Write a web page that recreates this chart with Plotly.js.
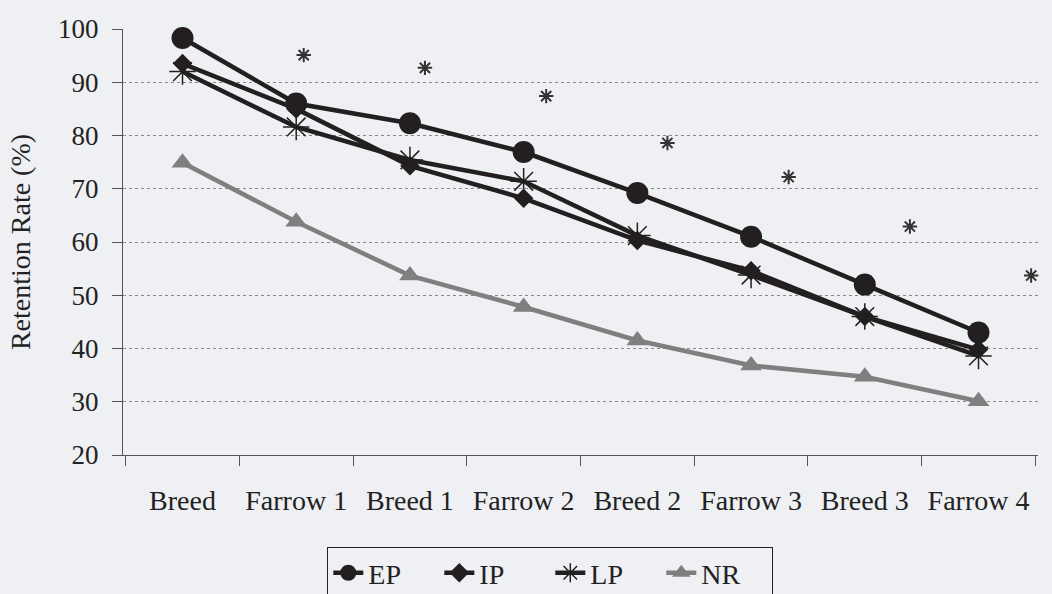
<!DOCTYPE html>
<html>
<head>
<meta charset="utf-8">
<script src="https://cdn.plot.ly/plotly-3.0.1.min.js"></script>
<style>html,body{margin:0;padding:0;background:#eef0f3;}#chart{width:1052px;height:594px;}</style>
</head>
<body>
<div id="chart"></div>
<script>
const categories = ["Breed", "Farrow 1", "Breed 1", "Farrow 2", "Breed 2", "Farrow 3", "Breed 3", "Farrow 4"];
const EP = [98.3, 86.0, 82.3, 76.9, 69.2, 61.0, 52.0, 43.0];
const IP = [93.5, 85.0, 74.3, 68.2, 60.3, 54.6, 46.0, 39.8];
const LP = [92.0, 81.6, 75.4, 71.4, 61.2, 53.8, 46.0, 38.6];
const NR = [74.9, 63.8, 53.7, 47.8, 41.5, 36.8, 34.7, 30.1];
const starY = [102.8, 95.1, 92.7, 87.4, 78.6, 72.2, 62.9, 53.7];
const seriesNames = ["EP", "IP", "LP", "NR"];
const yRange = [20, 100];

const FONT = "Liberation Serif, Times New Roman, serif";
const dark = "#231f20";
const grey = "#7f7f7f";
const starDrift = 0.06; // significance stars sit progressively right of each category centre

const traces = [
  {x: categories, y: EP, name: seriesNames[0], mode: "lines+markers", cliponaxis: false,
   line: {color: dark, width: 4.5}, marker: {symbol: "circle", size: 22, color: dark}},
  {x: categories, y: IP, name: seriesNames[1], mode: "lines+markers", cliponaxis: false,
   line: {color: dark, width: 4.5}, marker: {symbol: "diamond", size: 15, color: dark}},
  {x: categories, y: LP, name: seriesNames[2], mode: "lines+markers", cliponaxis: false,
   line: {color: dark, width: 4.5}, marker: {symbol: "asterisk-open", size: 22, color: dark, line: {color: dark, width: 1.5}}},
  {x: categories, y: NR, name: seriesNames[3], mode: "lines+markers", cliponaxis: false,
   line: {color: grey, width: 4.5}, marker: {symbol: "triangle-up", size: 19, color: grey}},
  {x: categories.map((c, i) => i * (1 + starDrift) + 0.02), y: starY, xaxis: "x2", yaxis: "y",
   mode: "markers", marker: {symbol: "asterisk-open", size: 12, color: "#333", line: {color: "#333", width: 2}},
   cliponaxis: false, showlegend: false, hoverinfo: "skip"}
];

const layout = {
  width: 1052, height: 594,
  paper_bgcolor: "#eef0f3", plot_bgcolor: "#eef0f3",
  margin: {l: 123, r: 14, t: 29, b: 139},
  font: {family: FONT, color: "#222"},
  showlegend: true,
  legend: {orientation: "h", xref: "paper", x: 0.467, xanchor: "center",
           yref: "container", y: 0.079, yanchor: "top",
           bordercolor: "#222", borderwidth: 1, bgcolor: "#eef0f3",
           entrywidth: 66, entrywidthmode: "pixels",
           font: {family: FONT, size: 28, color: "#222"}, tracegroupgap: 0},
  xaxis: {type: "category", tickson: "boundaries", ticks: "outside", ticklen: 10, tickcolor: "#555",
          showline: true, linecolor: "#555", linewidth: 1, showgrid: false,
          tickfont: {family: FONT, size: 28, color: "#222"}, ticklabelstandoff: 20},
  xaxis2: {type: "linear", overlaying: "x", range: [-0.5, categories.length - 0.5], visible: false, fixedrange: true},
  yaxis: {range: yRange, dtick: 10, ticks: "outside", ticklen: 10, tickcolor: "#555",
          showline: true, linecolor: "#555", linewidth: 1,
          showgrid: true, gridcolor: "#888", griddash: "dot", gridwidth: 1, zeroline: false,
          tickfont: {family: FONT, size: 27, color: "#222"}, ticklabelstandoff: 8,
          title: {text: "Retention Rate (%)", font: {family: FONT, size: 28, color: "#222"}, standoff: 19}}
};

Plotly.newPlot("chart", traces, layout, {displayModeBar: false, staticPlot: true});
</script>
</body>
</html>
